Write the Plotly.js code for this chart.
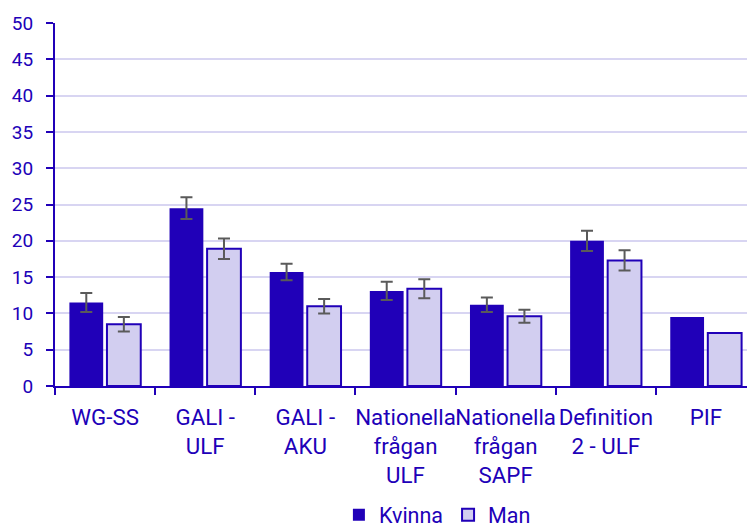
<!DOCTYPE html>
<html>
<head>
<meta charset="utf-8">
<script src="https://cdn.plot.ly/plotly-3.0.1.min.js"></script>
<style>
html, body { margin: 0; padding: 0; overflow: hidden; background: #fff; }
#chart { width: 760px; height: 528px; }
</style>
</head>
<body>
<div id="chart"></div>
<script>
const categories = ["WG-SS", "GALI -<br>ULF", "GALI -<br>AKU", "Nationella<br>frågan<br>ULF", "Nationella<br>frågan<br>SAPF", "Definition<br>2 - ULF", "PIF"];
const kvinnaValues = [11.5, 24.5, 15.7, 13.1, 11.2, 20.0, 9.5];
const kvinnaErrors = [1.3, 1.5, 1.15, 1.25, 1.0, 1.4, NaN];
const manValues = [8.5, 18.9, 11.0, 13.4, 9.6, 17.3, 7.3];
const manErrors = [1.0, 1.4, 1.0, 1.3, 0.9, 1.4, NaN];
const seriesNames = ["Kvinna", "Man"];

const blue = "#2000B8";
const light = "#D2CEF0";
const grid = "#D8D5F2";
const errColor = "#5A5A5A";

const data = [
  {
    type: "bar", name: seriesNames[0], x: categories, y: kvinnaValues,
    marker: { color: blue, line: { color: blue, width: 0 } },
    error_y: { type: "data", array: kvinnaErrors, visible: true, color: errColor, thickness: 2, width: 6 },
    hoverinfo: "skip"
  },
  {
    type: "bar", name: seriesNames[1], x: categories, y: manValues,
    marker: { color: light, line: { color: blue, width: 2 } },
    error_y: { type: "data", array: manErrors, visible: true, color: errColor, thickness: 2, width: 6 },
    hoverinfo: "skip"
  }
];

const layout = {
  width: 760, height: 528,
  margin: { l: 55, r: 4, t: 23, b: 142, autoexpand: false },
  paper_bgcolor: "#fff", plot_bgcolor: "#fff",
  font: { family: "Roboto, sans-serif", color: blue, size: 21.5 },
  barmode: "group", bargap: 0.25, bargroupgap: 0.1,
  showlegend: true,
  legend: { orientation: "h", x: 0.405, xanchor: "left", y: -0.355, yanchor: "middle",
            font: { size: 21.5, color: blue }, itemclick: false, traceorder: "normal" },
  xaxis: {
    type: "category", showline: true, linecolor: blue, linewidth: 2, automargin: false,
    ticks: "outside", tickson: "boundaries", ticklen: 7, tickcolor: blue, tickwidth: 2,
    tickangle: 0, tickfont: { size: 22.3, color: blue }, ticklabelstandoff: 10,
    showgrid: false, fixedrange: true
  },
  yaxis: {
    range: [0, 50], dtick: 5, tick0: 0, showline: true, linecolor: blue, linewidth: 2, automargin: false,
    ticks: "outside", ticklen: 7, tickcolor: blue, tickwidth: 2,
    gridcolor: grid, gridwidth: 2, zeroline: false,
    tickfont: { size: 19, color: blue }, ticklabelstandoff: 9, fixedrange: true
  }
};

Plotly.newPlot("chart", data, layout, { displayModeBar: false, staticPlot: true });
</script>
</body>
</html>
